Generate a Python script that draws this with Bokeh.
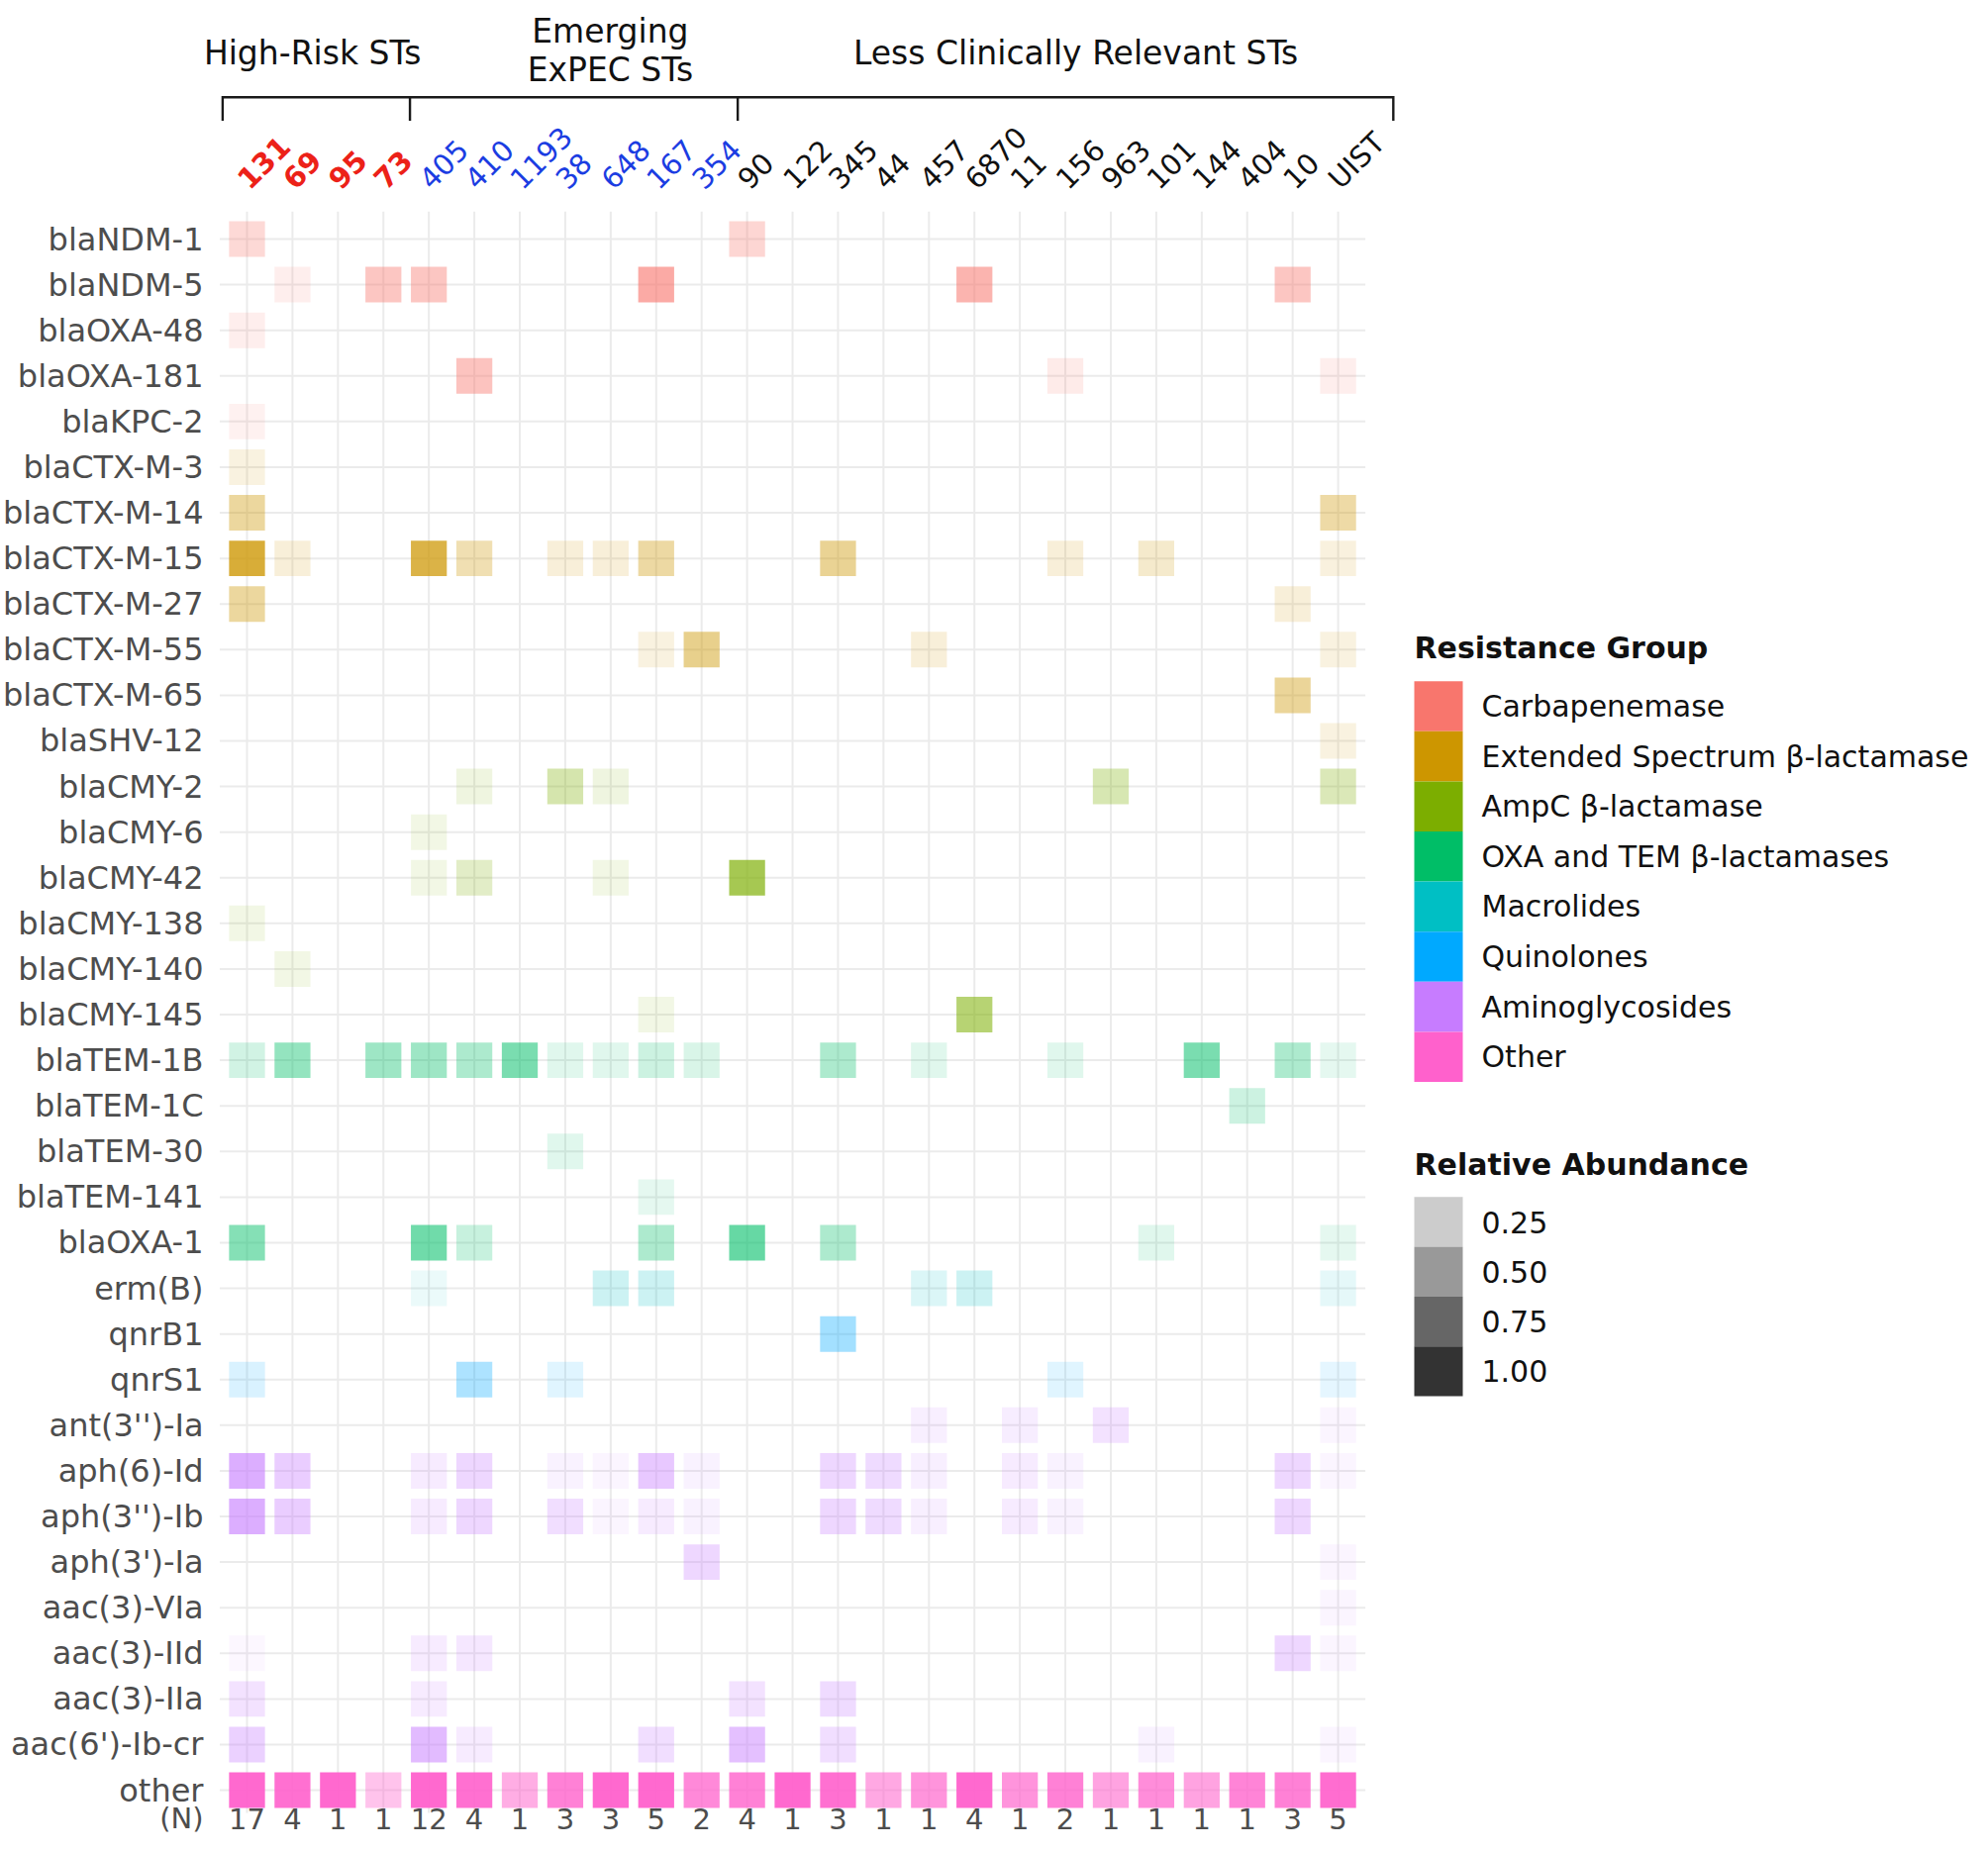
import math
from bokeh.plotting import figure
from bokeh.models import Range1d
from bokeh.core.properties import value
from bokeh.embed import file_html
from bokeh.resources import INLINE

# ---------------- data ----------------
sts = ["131", "69", "95", "73", "405", "410", "1193", "38", "648", "167", "354",
       "90", "122", "345", "44", "457", "6870", "11", "156", "963", "101", "144",
       "404", "10", "UIST"]
st_n = [17, 4, 1, 1, 12, 4, 1, 3, 3, 5, 2, 4, 1, 3, 1, 1, 4, 1, 2, 1, 1, 1, 1, 3, 5]
st_classes = ["High-Risk STs", "Emerging\nExPEC STs", "Less Clinically Relevant STs"]
st_class_size = [4, 7, 14]

groups = ["Carbapenemase", "Extended Spectrum β-lactamase", "AmpC β-lactamase",
          "OXA and TEM β-lactamases", "Macrolides", "Quinolones",
          "Aminoglycosides", "Other"]
group_colors = ["#F8766D", "#CD9600", "#7CAE00", "#00BE67", "#00BFC4",
                "#00A9FF", "#C77CFF", "#FF61CC"]

# relative abundance of each gene per sequence type (blank = absent)
carbapenemase = {
    "blaNDM-1": {"131": 0.28, "90": 0.30},
    "blaNDM-5": {"69": 0.12, "73": 0.42, "405": 0.42, "167": 0.62, "6870": 0.55, "10": 0.42},
    "blaOXA-48": {"131": 0.12},
    "blaOXA-181": {"410": 0.44, "156": 0.15, "UIST": 0.12},
    "blaKPC-2": {"131": 0.10},
}
esbl = {
    "blaCTX-M-3": {"131": 0.12},
    "blaCTX-M-14": {"131": 0.38, "UIST": 0.35},
    "blaCTX-M-15": {"131": 0.78, "69": 0.15, "405": 0.72, "410": 0.30, "38": 0.15,
                    "648": 0.15, "167": 0.36, "345": 0.42, "156": 0.15, "101": 0.20,
                    "UIST": 0.13},
    "blaCTX-M-27": {"131": 0.38, "10": 0.15},
    "blaCTX-M-55": {"167": 0.12, "354": 0.45, "457": 0.15, "UIST": 0.12},
    "blaCTX-M-65": {"10": 0.40},
    "blaSHV-12": {"UIST": 0.12},
}
ampc = {
    "blaCMY-2": {"410": 0.12, "38": 0.32, "648": 0.12, "963": 0.30, "UIST": 0.28},
    "blaCMY-6": {"405": 0.10},
    "blaCMY-42": {"405": 0.10, "410": 0.22, "648": 0.10, "90": 0.68},
    "blaCMY-138": {"131": 0.10},
    "blaCMY-140": {"69": 0.10},
    "blaCMY-145": {"167": 0.10, "6870": 0.55},
}
oxa_tem = {
    "blaTEM-1B": {"131": 0.18, "69": 0.42, "73": 0.38, "405": 0.38, "410": 0.32,
                  "1193": 0.52, "38": 0.12, "648": 0.12, "167": 0.20, "354": 0.15,
                  "345": 0.32, "457": 0.12, "156": 0.12, "144": 0.52, "10": 0.32,
                  "UIST": 0.10},
    "blaTEM-1C": {"404": 0.20},
    "blaTEM-30": {"38": 0.12},
    "blaTEM-141": {"167": 0.10},
    "blaOXA-1": {"131": 0.48, "405": 0.56, "410": 0.22, "167": 0.32, "90": 0.60,
                 "345": 0.32, "101": 0.12, "UIST": 0.10},
}
macrolides = {
    "erm(B)": {"405": 0.08, "648": 0.20, "167": 0.20, "457": 0.14, "6870": 0.20, "UIST": 0.10},
}
quinolones = {
    "qnrB1": {"345": 0.36},
    "qnrS1": {"131": 0.15, "410": 0.32, "38": 0.12, "156": 0.12, "UIST": 0.10},
}
aminoglycosides = {
    "ant(3'')-Ia": {"457": 0.12, "11": 0.14, "963": 0.22, "UIST": 0.08},
    "aph(6)-Id": {"131": 0.62, "69": 0.38, "405": 0.15, "410": 0.30, "38": 0.10,
                  "648": 0.08, "167": 0.42, "354": 0.10, "345": 0.30, "44": 0.28,
                  "457": 0.12, "11": 0.15, "156": 0.10, "10": 0.30, "UIST": 0.08},
    "aph(3'')-Ib": {"131": 0.62, "69": 0.38, "405": 0.15, "410": 0.30, "38": 0.25,
                    "648": 0.08, "167": 0.15, "354": 0.10, "345": 0.30, "44": 0.28,
                    "457": 0.12, "11": 0.15, "156": 0.10, "10": 0.30},
    "aph(3')-Ia": {"354": 0.30, "UIST": 0.08},
    "aac(3)-VIa": {"UIST": 0.08},
    "aac(3)-IId": {"131": 0.06, "405": 0.15, "410": 0.18, "10": 0.30, "UIST": 0.08},
    "aac(3)-IIa": {"131": 0.22, "405": 0.15, "90": 0.22, "345": 0.28},
    "aac(6')-Ib-cr": {"131": 0.35, "405": 0.52, "410": 0.15, "167": 0.25, "90": 0.48,
                      "345": 0.25, "101": 0.10, "UIST": 0.08},
}
other = {
    "other": {"131": 0.95, "69": 0.90, "95": 0.95, "73": 0.38, "405": 0.95, "410": 0.90,
              "1193": 0.52, "38": 0.80, "648": 0.95, "167": 0.95, "354": 0.75,
              "90": 0.80, "122": 0.95, "345": 0.90, "44": 0.55, "457": 0.68,
              "6870": 0.95, "11": 0.68, "156": 0.80, "963": 0.58, "101": 0.72,
              "144": 0.58, "404": 0.78, "10": 0.80, "UIST": 0.92},
}
group_tables = [carbapenemase, esbl, ampc, oxa_tem, macrolides, quinolones,
                aminoglycosides, other]

abundance_breaks = [0.25, 0.50, 0.75, 1.00]
abundance_labels = ["0.25", "0.50", "0.75", "1.00"]

# ---------------- styling / layout ----------------
W, H = 1992, 1855
PX_X, PX_Y = 45.92, 46.09     # pixels per column / per row
X0, Y0 = 249.0, 241.0         # canvas pixel of first column / first row
FONT = value("DejaVu Sans")
class_colors = ["#EC2118", "#1B3DE2", "#111111"]
class_styles = ["bold", "normal", "normal"]
GRID_COLOR = "#EBEBEB"
AXIS_TEXT = "#4D4D4D"
TILE_W, TILE_H = 0.79, 0.78
PAD = 0.6


def fx(px):   # canvas pixel -> data x
    return (px - X0) / PX_X


def fy(px):   # canvas pixel -> data y
    return (px - Y0) / PX_Y


p = figure(width=W, height=H,
           x_range=Range1d(-X0 / PX_X, (W - X0) / PX_X),
           y_range=Range1d((H - Y0) / PX_Y, -Y0 / PX_Y),
           output_backend="svg", toolbar_location=None,
           x_axis_location=None, y_axis_location=None,
           min_border=0, outline_line_color=None)
p.grid.visible = False

genes, gene_color = [], []
for tbl, col in zip(group_tables, group_colors):
    for g in tbl:
        genes.append(g)
        gene_color.append(col)
n_genes = len(genes)
n_sts = len(sts)
col_of = {s: i for i, s in enumerate(sts)}

# grid lines
p.segment(x0=list(range(n_sts)), x1=list(range(n_sts)),
          y0=[-PAD] * n_sts, y1=[n_genes - 1 + 0.5] * n_sts,
          line_color=GRID_COLOR, line_width=2)
p.segment(x0=[-PAD] * n_genes, x1=[n_sts - 1 + PAD] * n_genes,
          y0=list(range(n_genes)), y1=list(range(n_genes)),
          line_color=GRID_COLOR, line_width=2)

# tiles
tx, ty, tc, ta = [], [], [], []
for tbl, col in zip(group_tables, group_colors):
    for g, vals in tbl.items():
        for s, v in vals.items():
            tx.append(col_of[s])
            ty.append(genes.index(g))
            tc.append(col)
            ta.append(v)
p.rect(x=tx, y=ty, width=TILE_W, height=TILE_H, fill_color=tc, fill_alpha=ta,
       line_color=None)

# y labels (gene names)
LBL_X = fx(205)
p.text(x=[LBL_X] * n_genes, y=list(range(n_genes)), text=genes,
       text_align="right", text_baseline="middle", text_font=FONT,
       text_font_size="32px", text_color=AXIS_TEXT)

# (N) row
N_Y = n_genes - 1 + 0.62
p.text(x=[LBL_X], y=[N_Y], text=["(N)"], text_align="right",
       text_baseline="middle", text_font=FONT, text_font_size="29px",
       text_color=AXIS_TEXT)
p.text(x=list(range(n_sts)), y=[N_Y] * n_sts, text=[str(n) for n in st_n],
       text_align="center", text_baseline="middle", text_font=FONT,
       text_font_size="29px", text_color=AXIS_TEXT)

# rotated ST labels, coloured by class
LABEL_NUDGE = -0.1
start = 0
for k, size in enumerate(st_class_size):
    idx = list(range(start, start + size))
    p.text(x=[i + LABEL_NUDGE for i in idx], y=[fy(185)] * size,
           text=[sts[i] for i in idx], angle=math.pi / 4,
           text_align="left", text_baseline="middle", text_font=FONT,
           text_font_size="29px", text_color=class_colors[k],
           text_font_style=class_styles[k])
    start += size

# class bracket
bounds = [-0.5]
for size in st_class_size:
    bounds.append(bounds[-1] + size)
BR_SCALE, BR_SHIFT = 1.030, -0.021
ticks = [BR_SCALE * b + BR_SHIFT for b in bounds]
br_top, br_bot = fy(97.8), fy(121.5)
p.line(x=[ticks[0], ticks[0], ticks[-1], ticks[-1]], y=[br_bot, br_top, br_top, br_bot],
       line_color="#1A1A1A", line_width=2.4, line_join="miter")
p.segment(x0=ticks[1:-1], x1=ticks[1:-1], y0=[br_top] * (len(ticks) - 2),
          y1=[br_bot] * (len(ticks) - 2), line_color="#1A1A1A", line_width=2.4)

# class headers
HEADER_NUDGE = [-0.06, 0.99, 0.73]
hx, hy, ht = [], [], []
start = 0
for k, (name, size) in enumerate(zip(st_classes, st_class_size)):
    cx = start + (size - 1) / 2 + HEADER_NUDGE[k]
    lines = name.split("\n")
    base = [fy(53)] if len(lines) == 1 else [fy(31), fy(70)]
    for line, b in zip(lines, base):
        hx.append(cx)
        hy.append(b)
        ht.append(line)
    start += size
p.text(x=hx, y=hy, text=ht, text_align="center", text_baseline="alphabetic",
       text_font=FONT, text_font_size="33px", text_color="#111111")

# legend: Resistance Group
LEG_X = fx(1428)
KEY_W = 49 / PX_X
key_cx = LEG_X + KEY_W / 2
lab_x = fx(1496)
p.text(x=[LEG_X], y=[fy(654)], text=["Resistance Group"], text_align="left",
       text_baseline="middle", text_font=FONT, text_font_size="30px",
       text_font_style="bold", text_color="#111111")
ky = [fy(713 + 50.6 * k) for k in range(len(groups))]
p.rect(x=[key_cx] * len(groups), y=ky, width=KEY_W, height=50.6 / PX_Y,
       fill_color=group_colors, line_color=None)
p.text(x=[lab_x] * len(groups), y=ky, text=groups, text_align="left",
       text_baseline="middle", text_font=FONT, text_font_size="30px",
       text_color="#111111")

# legend: Relative Abundance
p.text(x=[LEG_X], y=[fy(1175.6)], text=["Relative Abundance"], text_align="left",
       text_baseline="middle", text_font=FONT, text_font_size="30px",
       text_font_style="bold", text_color="#111111")
ay = [fy(1234 + 50.3 * k) for k in range(len(abundance_breaks))]
p.rect(x=[key_cx] * len(abundance_breaks), y=ay, width=KEY_W, height=50.3 / PX_Y,
       fill_color="#333333", fill_alpha=abundance_breaks, line_color=None)
p.text(x=[lab_x] * len(abundance_breaks), y=ay, text=abundance_labels,
       text_align="left", text_baseline="middle", text_font=FONT,
       text_font_size="30px", text_color="#111111")

open("out.html", "w").write(file_html(p, INLINE))
